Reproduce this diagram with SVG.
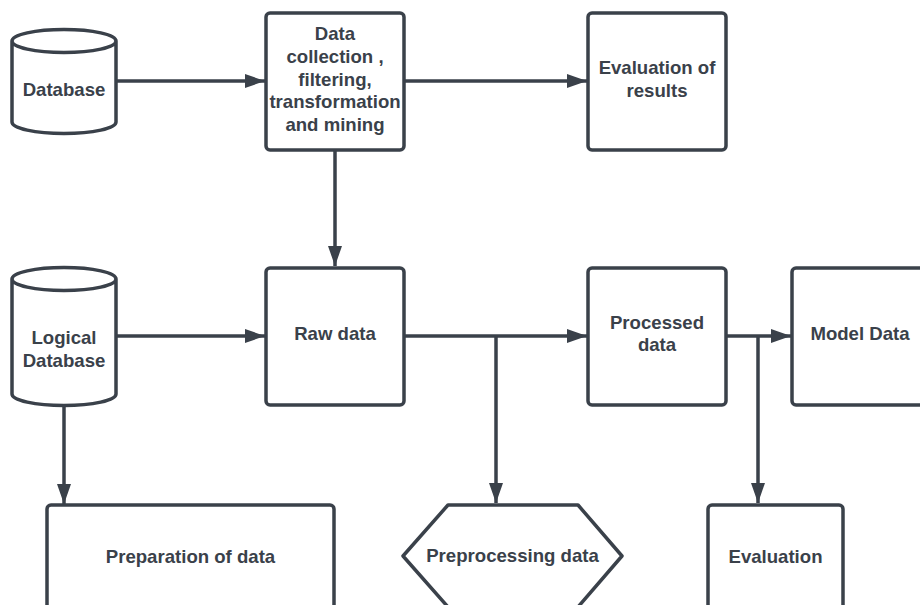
<svg xmlns="http://www.w3.org/2000/svg" width="920" height="605" viewBox="0 0 920 605">
<style>
.s{fill:#fff;stroke:#3a414a;stroke-width:3.5;stroke-linejoin:round}
.t{font-family:"Liberation Sans",Arial,sans-serif;font-weight:bold;font-size:18.6px;fill:#3a414a;text-anchor:middle}
.c{fill:none;stroke:#3a414a;stroke-width:3.5}
</style>
<defs>
<marker id="ah" viewBox="0 0 20 14" refX="20" refY="7" markerWidth="20" markerHeight="14" markerUnits="userSpaceOnUse" orient="auto">
<path d="M0,0 L20,7 L0,14 Z" fill="#3a414a"/>
</marker>
</defs>
<rect width="920" height="605" fill="#fff"/>
<g id="connectors">
<line class="c" x1="116" y1="81" x2="265" y2="81" marker-end="url(#ah)"/>
<line class="c" x1="404" y1="81" x2="587" y2="81" marker-end="url(#ah)"/>
<line class="c" x1="335" y1="150" x2="335" y2="266" marker-end="url(#ah)"/>
<line class="c" x1="116" y1="336" x2="265" y2="336" marker-end="url(#ah)"/>
<line class="c" x1="404" y1="336" x2="587" y2="336" marker-end="url(#ah)"/>
<line class="c" x1="496" y1="336" x2="496" y2="503" marker-end="url(#ah)"/>
<line class="c" x1="726" y1="336" x2="791" y2="336" marker-end="url(#ah)"/>
<line class="c" x1="758" y1="336" x2="758" y2="503" marker-end="url(#ah)"/>
<line class="c" x1="64" y1="405" x2="64" y2="504" marker-end="url(#ah)"/>
</g>
<g id="database">
<path class="s" d="M12,41 L12,122 A52,11.5 0 0 0 116,122 L116,41 A52,11.5 0 0 0 12,41 A52,11.5 0 0 0 116,41"/>
<text class="t" x="64" y="95.5">Database</text>
</g>
<g id="collection">
<rect class="s" x="266" y="13" width="138" height="137" rx="4"/>
<text class="t" x="335" y="40">Data</text>
<text class="t" x="335" y="62.5">collection ,</text>
<text class="t" x="335" y="85.5">filtering,</text>
<text class="t" x="335" y="108">transformation</text>
<text class="t" x="335" y="131">and mining</text>
</g>
<g id="evaluation-results">
<rect class="s" x="588" y="13" width="138" height="137" rx="4"/>
<text class="t" x="657" y="74">Evaluation of</text>
<text class="t" x="657" y="96.5">results</text>
</g>
<g id="logical-database">
<path class="s" d="M12,279 L12,394 A52,11.5 0 0 0 116,394 L116,279 A52,11.5 0 0 0 12,279 A52,11.5 0 0 0 116,279"/>
<text class="t" x="64" y="344">Logical</text>
<text class="t" x="64" y="366.5">Database</text>
</g>
<g id="raw-data">
<rect class="s" x="266" y="268" width="138" height="137" rx="4"/>
<text class="t" x="335" y="340">Raw data</text>
</g>
<g id="processed-data">
<rect class="s" x="588" y="268" width="138" height="137" rx="4"/>
<text class="t" x="657" y="328.5">Processed</text>
<text class="t" x="657" y="351">data</text>
</g>
<g id="model-data">
<rect class="s" x="792" y="268" width="160" height="137" rx="4"/>
<text class="t" x="860" y="340">Model Data</text>
</g>
<g id="preparation">
<rect class="s" x="47" y="505" width="287" height="137" rx="4"/>
<text class="t" x="190.5" y="562.5">Preparation of data</text>
</g>
<g id="preprocessing">
<path class="s" d="M448,505 L578,505 L622,556 L578,607 L448,607 L403,556 Z"/>
<text class="t" x="512.5" y="562">Preprocessing data</text>
</g>
<g id="evaluation">
<rect class="s" x="708" y="505" width="135" height="137" rx="4"/>
<text class="t" x="775.5" y="562.5">Evaluation</text>
</g>
</svg>
